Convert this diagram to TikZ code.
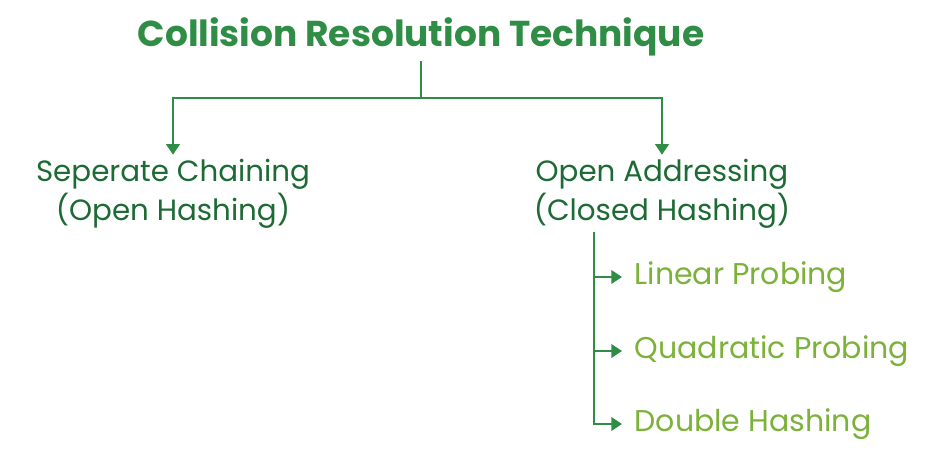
\documentclass[tikz,border=0pt]{standalone}
\usepackage{fontspec}
\setmainfont{Poppins}
\usetikzlibrary{arrows.meta}
\definecolor{gfg}{HTML}{2F8D46}
\definecolor{dark}{HTML}{1D6A35}
\definecolor{lime}{HTML}{7CB13A}
\tikzset{
  link/.style={draw=gfg, line width=2pt},
  arr/.style={link, -{Triangle[length=8pt,width=10pt]}},
  head/.style={text=gfg, font=\fontsize{27}{31}\selectfont\bfseries},
  kind/.style={text=dark, font=\fontsize{22}{29}\selectfont, align=center},
  leaf/.style={text=lime, font=\fontsize{22.5}{26}\selectfont, anchor=west},
}

\begin{document}
\begin{tikzpicture}[x=0.75pt,y=-0.75pt]
  \useasboundingbox (0,0) rectangle (939,451);
  \coordinate (fork) at (421,98);
  \coordinate (trunk) at (594,232);

  \node[head] (top) at (421,37) {Collision Resolution Technique};
  \node[kind] (sep) at (173,194) {Seperate Chaining\\(Open Hashing)};
  \node[kind] (open) at (662,194) {Open Addressing\\(Closed Hashing)};
  \node[leaf] (lin) at (630,277) {Linear Probing};
  \node[leaf] (quad) at (630,351) {Quadratic Probing};
  \node[leaf] (dbl) at (630,424) {Double Hashing};

  \draw[link] (top.south) -- (fork);
  \draw[arr] (fork) -| (sep.north);
  \draw[arr] (fork) -| (open.north);
  \draw[arr, shorten >=6pt] (trunk) |- (dbl.west);
  \draw[arr, shorten >=6pt] (trunk |- lin) -- (lin.west);
  \draw[arr, shorten >=6pt] (trunk |- quad) -- (quad.west);
\end{tikzpicture}
\end{document}
